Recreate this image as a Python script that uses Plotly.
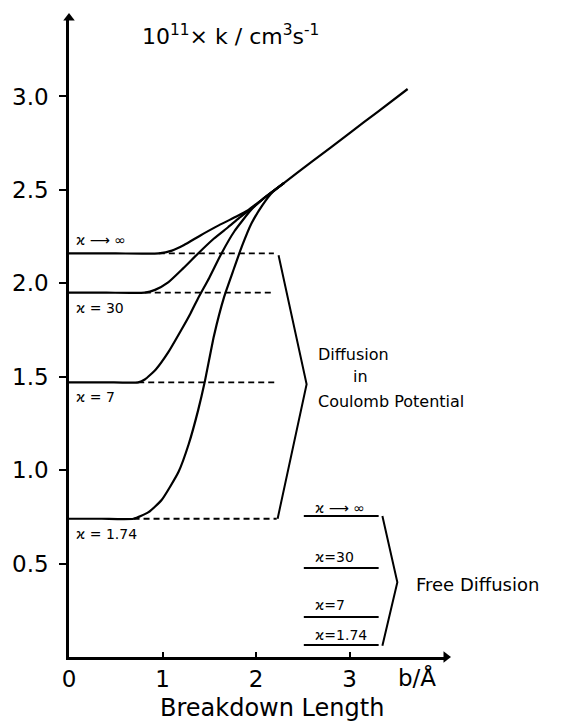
import plotly.graph_objects as go

# ---- data (b in Angstrom, k in 1e-11 cm^3 s^-1) ----
b_inf = [0, 0.5, 0.96, 1.10, 1.23, 1.40, 1.60, 1.80, 1.91, 2.10, 2.30, 2.60, 3.00, 3.30, 3.62]
k_inf = [2.16, 2.16, 2.16, 2.175, 2.205, 2.255, 2.31, 2.36, 2.39, 2.462, 2.538, 2.652, 2.804, 2.918, 3.04]

b_30 = [0, 0.4, 0.81, 0.92, 1.06, 1.22, 1.38, 1.55, 1.70, 1.82, 1.95, 2.10, 2.30]
k_30 = [1.95, 1.95, 1.95, 1.965, 2.005, 2.08, 2.16, 2.24, 2.30, 2.35, 2.40, 2.462, 2.538]

b_7 = [0, 0.4, 0.74, 0.81, 0.93, 1.06, 1.20, 1.30, 1.38, 1.50, 1.63, 1.77, 1.95, 2.10, 2.30]
k_7 = [1.47, 1.47, 1.47, 1.485, 1.54, 1.63, 1.75, 1.84, 1.92, 2.03, 2.16, 2.28, 2.395, 2.462, 2.538]

b_174 = [0, 0.35, 0.69, 0.85, 0.99, 1.17, 1.28, 1.38, 1.45, 1.55, 1.66, 1.75, 1.85, 1.95, 2.07, 2.18, 2.30]
k_174 = [0.74, 0.74, 0.74, 0.775, 0.84, 0.99, 1.14, 1.32, 1.47, 1.72, 1.93, 2.06, 2.20, 2.32, 2.42, 2.49, 2.538]

coulomb_curves = [(b_inf, k_inf), (b_30, k_30), (b_7, k_7), (b_174, k_174)]

# dashed continuation of the plateaus (Coulomb limit)
coul_levels = [2.16, 1.95, 1.47, 0.74]
dash_start = [0.96, 0.81, 0.74, 0.69]
dash_end = [2.19, 2.19, 2.21, 2.22]
coul_labels = ["ϰ ⟶ ∞", "ϰ = 30", "ϰ = 7", "ϰ = 1.74"]

# free diffusion levels
free_levels = [0.755, 0.477, 0.214, 0.064]
free_b = [2.51, 3.31]
free_labels = ["ϰ ⟶ ∞", "ϰ=30", "ϰ=7", "ϰ=1.74"]

# bracket outlines
coul_bracket_b = [2.24, 2.54, 2.23]
coul_bracket_k = [2.15, 1.46, 0.74]
free_bracket_b = [3.35, 3.51, 3.35]
free_bracket_k = [0.755, 0.40, 0.06]

# axis extents (arrow tips)
y_axis_top = 3.42
x_axis_end = 4.03

x_ticks = [0, 1, 2, 3]
x_ticklabels = ["0", "1", "2", "3"]
y_ticks = [0.5, 1.0, 1.5, 2.0, 2.5, 3.0]
y_ticklabels = ["0.5", "1.0", "1.5", "2.0", "2.5", "3.0"]

FONT = "DejaVu Sans"
BLACK = "black"

# pixel scale of the reference: 94 px per Angstrom, 186.7 px per unit of k
PX_X, PX_Y = 94.0, 186.7
L, B = 67, 65
plot_w = x_axis_end * PX_X
plot_h = y_axis_top * PX_Y

fig = go.Figure()

for bx, ky in coulomb_curves:
    fig.add_trace(go.Scatter(x=bx, y=ky, mode="lines",
                             line=dict(color=BLACK, width=2.2, shape="spline", smoothing=0.5),
                             showlegend=False, hoverinfo="skip"))

for lvl, s, e in zip(coul_levels, dash_start, dash_end):
    fig.add_trace(go.Scatter(x=[s, e], y=[lvl, lvl], mode="lines",
                             line=dict(color=BLACK, width=1.8, dash="6px,4px"),
                             showlegend=False, hoverinfo="skip"))

for lvl in free_levels:
    fig.add_trace(go.Scatter(x=free_b, y=[lvl, lvl], mode="lines",
                             line=dict(color=BLACK, width=2),
                             showlegend=False, hoverinfo="skip"))

fig.add_trace(go.Scatter(x=coul_bracket_b, y=coul_bracket_k, mode="lines",
                         line=dict(color=BLACK, width=2), showlegend=False, hoverinfo="skip"))
fig.add_trace(go.Scatter(x=free_bracket_b, y=free_bracket_k, mode="lines",
                         line=dict(color=BLACK, width=2), showlegend=False, hoverinfo="skip"))

# arrowheads on the axes
fig.add_trace(go.Scatter(x=[0, x_axis_end], y=[y_axis_top, 0], mode="markers",
                         marker=dict(symbol=["triangle-up", "triangle-right"], size=10, color=BLACK),
                         showlegend=False, hoverinfo="skip", cliponaxis=False))

ann = []
label_y_coul = [2.23, 1.87, 1.39, 0.66]
for t, yy in zip(coul_labels, label_y_coul):
    ann.append(dict(x=0.05, y=yy, xref="x", yref="y", text=t, showarrow=False,
                    xanchor="left", yanchor="middle", font=dict(family=FONT, size=14, color=BLACK)))

label_y_free = [0.80, 0.535, 0.28, 0.118]
for t, yy in zip(free_labels, label_y_free):
    ann.append(dict(x=2.61, y=yy, xref="x", yref="y", text=t, showarrow=False,
                    xanchor="left", yanchor="middle", font=dict(family=FONT, size=14, color=BLACK)))

ann.append(dict(x=2.64, y=1.62, xref="x", yref="y", text="Diffusion", showarrow=False,
                xanchor="left", yanchor="middle", font=dict(family=FONT, size=16, color=BLACK)))
ann.append(dict(x=3.12, y=1.50, xref="x", yref="y", text="in", showarrow=False,
                xanchor="center", yanchor="middle", font=dict(family=FONT, size=16, color=BLACK)))
ann.append(dict(x=2.64, y=1.37, xref="x", yref="y", text="Coulomb Potential", showarrow=False,
                xanchor="left", yanchor="middle", font=dict(family=FONT, size=16, color=BLACK)))
ann.append(dict(x=3.69, y=0.39, xref="x", yref="y", text="Free Diffusion", showarrow=False,
                xanchor="left", yanchor="middle", font=dict(family=FONT, size=18, color=BLACK)))

ann.append(dict(x=0.755, y=3.33, xref="x", yref="y",
                text="10<sup>11</sup>× k / cm<sup>3</sup>s<sup>-1</sup>", showarrow=False,
                xanchor="left", yanchor="middle", font=dict(family=FONT, size=22, color=BLACK)))
ann.append(dict(x=3.72, y=-20 / plot_h, xref="x", yref="paper", text="b/Å", showarrow=False,
                xanchor="center", yanchor="middle", font=dict(family=FONT, size=23, color=BLACK)))
ann.append(dict(x=2.17, y=-51 / plot_h, xref="x", yref="paper", text="Breakdown Length", showarrow=False,
                xanchor="center", yanchor="middle", font=dict(family=FONT, size=24, color=BLACK)))

fig.update_layout(
    width=562, height=722,
    margin=dict(l=L, r=562 - L - plot_w, t=722 - B - plot_h, b=B),
    paper_bgcolor="white", plot_bgcolor="white",
    showlegend=False,
    annotations=ann,
    xaxis=dict(range=[0, x_axis_end], showgrid=False, zeroline=False,
               showline=True, linewidth=2.5, linecolor=BLACK,
               tickmode="array", tickvals=x_ticks, ticktext=x_ticklabels,
               ticks="inside", ticklen=5, tickwidth=2, tickcolor=BLACK,
               ticklabelstandoff=0,
               tickfont=dict(family=FONT, size=23, color=BLACK)),
    yaxis=dict(range=[0, y_axis_top], showgrid=False, zeroline=False,
               showline=True, linewidth=2.5, linecolor=BLACK,
               tickmode="array", tickvals=y_ticks, ticktext=y_ticklabels,
               ticks="outside", ticklen=7, tickwidth=2, tickcolor=BLACK,
               ticklabelstandoff=6,
               tickfont=dict(family=FONT, size=23, color=BLACK)),
)

fig.write_html("out.html")
